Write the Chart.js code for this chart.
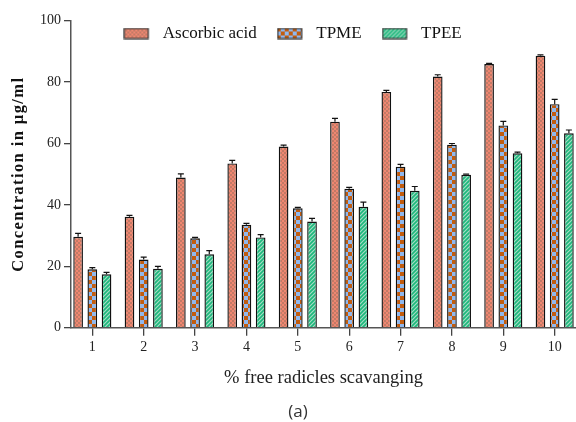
<!DOCTYPE html>
<html>
<head>
<meta charset="utf-8">
<script src="https://cdn.jsdelivr.net/npm/chart.js@4"></script>
<style>
  html, body { margin: 0; padding: 0; background: #fff; }
  #wrap { position: relative; width: 576px; height: 422px; }
  #cap { position: absolute; left: 298px; top: 410px; transform: translate(-50%, -50%);
         font: 17px "Open Sans", "Noto Sans", sans-serif; color: #333; white-space: nowrap; }
</style>
</head>
<body>
<div id="wrap">
  <canvas id="c" width="576" height="422"></canvas>
  <div id="cap">(a)</div>
</div>
<script>
// ---- data ----
const categories = [1, 2, 3, 4, 5, 6, 7, 8, 9, 10];
const seriesNames = ['Ascorbic acid', 'TPME', 'TPEE'];
const ascorbic = [29.6, 36.1, 48.9, 53.5, 59.0, 67.1, 76.8, 81.8, 85.9, 88.6];
const tpme     = [19.0, 22.2, 29.1, 33.5, 38.9, 45.3, 52.4, 59.6, 65.9, 72.8];
const tpee     = [17.4, 19.2, 23.9, 29.4, 34.6, 39.4, 44.6, 49.8, 56.8, 63.3];
const ascorbicErr = [1.1, 0.5, 1.2, 1.0, 0.5, 1.1, 0.5, 0.6, 0.2, 0.3];
const tpmeErr     = [0.6, 0.8, 0.3, 0.5, 0.3, 0.4, 0.8, 0.4, 1.3, 1.6];
const tpeeErr     = [0.6, 0.8, 1.2, 0.9, 1.0, 1.5, 1.4, 0.2, 0.4, 1.1];
const yTicks = [0, 20, 40, 60, 80, 100];

// ---- patterns ----
function tile(w, h, draw) {
  const c = document.createElement('canvas');
  c.width = w; c.height = h;
  draw(c.getContext('2d'));
  return c;
}
const tileAsc = tile(4, 4, g => {
  g.fillStyle = '#ef8670'; g.fillRect(0, 0, 4, 4);
  g.fillStyle = '#c27a66'; g.fillRect(0, 0, 2, 2); g.fillRect(2, 2, 2, 2);
});
const tileTpme = tile(8, 8, g => {
  g.fillStyle = '#8fb8ef'; g.fillRect(0, 0, 8, 8);
  g.fillStyle = '#c25c0e'; g.fillRect(0, 0, 4, 4); g.fillRect(4, 4, 4, 4);
});
const tileTpee = tile(4, 4, g => {
  g.fillStyle = '#1cb87c'; g.fillRect(0, 0, 4, 4);
  g.strokeStyle = '#a6dcc4'; g.lineWidth = 1.2;
  g.beginPath();
  g.moveTo(-1, 5); g.lineTo(5, -1);
  g.moveTo(-1, 1); g.lineTo(1, -1);
  g.moveTo(3, 5); g.lineTo(5, 3);
  g.stroke();
});
const ctx = document.getElementById('c').getContext('2d');
const patterns = [tileAsc, tileTpme, tileTpee].map(t => ctx.createPattern(t, 'repeat'));

function legendImg(p) {
  return tile(31, 12, g => {
    g.fillStyle = p; g.fillRect(1, 1, 24, 10);
    g.strokeStyle = '#333'; g.lineWidth = 1.2; g.strokeRect(1, 1, 24, 10);
  });
}
const legendImgs = patterns.map(legendImg);

const values = [ascorbic, tpme, tpee];
const errors = [ascorbicErr, tpmeErr, tpeeErr];

const errorBars = {
  id: 'errorBars',
  afterDatasetsDraw(chart) {
    const g = chart.ctx;
    const ys = chart.scales.y;
    g.save();
    g.strokeStyle = '#111';
    g.lineWidth = 1.2;
    chart.data.datasets.forEach((ds, di) => {
      const meta = chart.getDatasetMeta(di);
      meta.data.forEach((bar, i) => {
        const v = values[di][i], e = errors[di][i];
        const yt = ys.getPixelForValue(v + e);
        const yb = ys.getPixelForValue(v);
        g.beginPath();
        g.moveTo(bar.x, yb); g.lineTo(bar.x, yt);
        g.moveTo(bar.x - 3, yt); g.lineTo(bar.x + 3, yt);
        g.stroke();
      });
    });
    g.restore();
  }
};

// legend sits inside the plot area: after layout, enlarge its box so it is not clipped;
// also give the y-axis title the letter spacing seen in the reference
const tweaks = {
  id: 'tweaks',
  afterLayout(chart) {
    const lg = chart.legend;
    if (lg) { lg.height = 50; lg.bottom = lg.top + 50; }
    const ys = chart.scales.y;
    if (ys && !ys._lsPatched) {
      const orig = ys.drawTitle;
      ys.drawTitle = function () {
        const c = this.ctx;
        c.save();
        try { c.letterSpacing = '1.4px'; } catch (e) {}
        orig.apply(this, arguments);
        c.restore();
      };
      ys._lsPatched = true;
    }
  }
};

const serif = '"Liberation Serif", "Times New Roman", serif';

new Chart(ctx, {
  type: 'bar',
  data: {
    datasets: seriesNames.map((name, di) => ({
      label: name,
      data: categories.map((c, i) => ({ x: c, y: values[di][i] })),
      backgroundColor: patterns[di],
      borderColor: '#111',
      borderWidth: 1.4,
      categoryPercentage: 0.83,
      barPercentage: 0.68
    }))
  },
  options: {
    responsive: false,
    animation: false,
    layout: { padding: { top: 5, left: 9, right: 0, bottom: 28 } },
    plugins: {
      tooltip: { enabled: false },
      legend: {
        position: 'top',
        align: 'center',
        maxHeight: 15.7,
        labels: {
          usePointStyle: true,
          pointStyleWidth: 31,
          padding: 20,
          color: '#111',
          font: { family: serif, size: 17 },
          generateLabels(chart) {
            const items = Chart.defaults.plugins.legend.labels.generateLabels(chart);
            items.forEach((it, i) => { it.pointStyle = legendImgs[i]; });
            return items;
          }
        }
      }
    },
    scales: {
      x: {
        type: 'linear',
        min: 0.585,
        max: 10.415,
        offset: false,
        afterBuildTicks(scale) { scale.ticks = categories.map(v => ({ value: v })); },
        afterFit(scale) { scale.height = 66.3; },
        grid: { display: true, offset: false, drawOnChartArea: false, drawTicks: true, tickLength: 8, color: '#444', lineWidth: 1.3 },
        border: { display: true, color: '#555', width: 1.5 },
        ticks: { color: '#222', padding: 3, font: { family: serif, size: 14 }, maxRotation: 0, autoSkip: false,
                 callback: v => String(v) },
        title: { display: true, text: '% free radicles scavanging', color: '#222',
                 font: { family: serif, size: 18.5 }, padding: { top: 4, bottom: 5 } }
      },
      y: {
        min: 0,
        max: 100,
        afterBuildTicks(scale) { scale.ticks = yTicks.map(v => ({ value: v })); },
        afterFit(scale) { scale.width = 62; },
        grid: { display: true, drawOnChartArea: false, drawTicks: true, tickLength: 7, color: '#444', lineWidth: 1.3 },
        border: { display: true, color: '#555', width: 1.5 },
        ticks: { color: '#222', padding: 3, font: { family: serif, size: 14 } },
        title: { display: true, text: 'Concentration in µg/ml', color: '#111',
                 font: { family: serif, size: 16.5, weight: 'bold' }, padding: { top: 0, bottom: 0 } }
      }
    }
  },
  plugins: [errorBars, tweaks]
});
</script>
</body>
</html>
